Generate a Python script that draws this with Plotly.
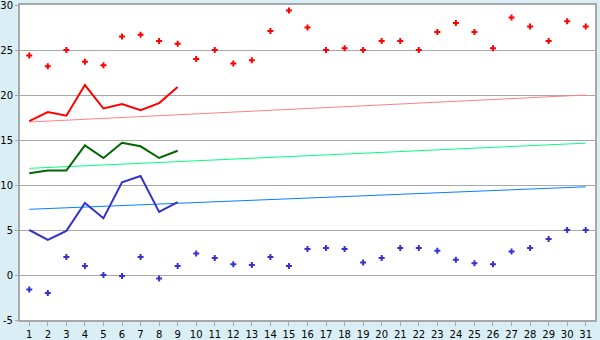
import plotly.graph_objects as go

days = list(range(1, 32))
hi_pts = [24.4, 23.2, 25.0, 23.7, 23.3, 26.5, 26.7, 26.0, 25.7, 24.0,
          25.0, 23.5, 23.85, 27.1, 29.4, 27.5, 25.0, 25.2, 25.0, 26.0,
          26.0, 25.0, 27.0, 28.0, 27.0, 25.2, 28.6, 27.6, 26.0, 28.2, 27.6]
lo_pts = [-1.6, -2.0, 2.0, 1.0, 0.0, -0.1, 2.0, -0.4, 1.0, 2.4,
          1.9, 1.2, 1.1, 2.0, 1.0, 2.9, 3.0, 2.9, 1.4, 1.9,
          3.0, 3.0, 2.7, 1.7, 1.3, 1.2, 2.6, 3.0, 4.0, 5.0, 5.0]
line_days = list(range(1, 10))
hi_line = [17.1, 18.1, 17.7, 21.1, 18.5, 19.0, 18.3, 19.1, 20.9]
mid_line = [11.3, 11.6, 11.6, 14.4, 13.0, 14.7, 14.3, 13.0, 13.8]
lo_line = [5.0, 3.9, 4.9, 8.0, 6.3, 10.3, 11.0, 7.0, 8.1]
trend_days = [1, 31]
hi_trend = [17.0, 20.0]
mid_trend = [11.85, 14.65]
lo_trend = [7.3, 9.8]
y_ticks = [-5, 0, 5, 10, 15, 20, 25, 30]
y_labels = ["-5", "0", "5", "10", "15", "20", "25", "30"]

fig = go.Figure()
fig.add_trace(go.Scatter(x=trend_days, y=hi_trend, mode="lines", line=dict(color="#ff8080", width=1)))
fig.add_trace(go.Scatter(x=trend_days, y=mid_trend, mode="lines", line=dict(color="#00ff80", width=1)))
fig.add_trace(go.Scatter(x=trend_days, y=lo_trend, mode="lines", line=dict(color="#0080ff", width=1)))
fig.add_trace(go.Scatter(x=line_days, y=hi_line, mode="lines", line=dict(color="#ff0000", width=2)))
fig.add_trace(go.Scatter(x=line_days, y=mid_line, mode="lines", line=dict(color="#006600", width=2)))
fig.add_trace(go.Scatter(x=line_days, y=lo_line, mode="lines", line=dict(color="#3333cc", width=2)))
fig.add_trace(go.Scatter(x=days, y=hi_pts, mode="markers",
                         marker=dict(symbol="cross", size=5, color="#ff0000", line=dict(width=0))))
fig.add_trace(go.Scatter(x=days, y=lo_pts, mode="markers",
                         marker=dict(symbol="cross", size=5, color="#3333cc", line=dict(width=0))))

fig.update_layout(
    width=600, height=340,
    margin=dict(l=20, r=5, t=5, b=20),
    paper_bgcolor="#d9eef5",
    plot_bgcolor="#ffffff",
    showlegend=False,
    font=dict(family="DejaVu Sans", size=10, color="#000000"),
)
fig.update_xaxes(
    range=[0.5, 31.5], tickvals=days, ticktext=[str(d) for d in days],
    ticks="outside", ticklen=4, tickcolor="#a8a8a8", automargin=False,
    ticklabeloverflow="allow",
    showgrid=False, zeroline=False,
    showline=True, linecolor="#a8a8a8", mirror=True, linewidth=2,
)
fig.update_yaxes(
    range=[-5, 30], tickvals=y_ticks, ticktext=y_labels, automargin=False,
    ticklabeloverflow="allow",
    ticks="outside", ticklen=3, tickcolor="#a8a8a8",
    showgrid=True, gridcolor="#a8a8a8", gridwidth=1, zeroline=False,
    showline=True, linecolor="#a8a8a8", mirror=True, linewidth=2,
)

fig.write_html("out.html")
